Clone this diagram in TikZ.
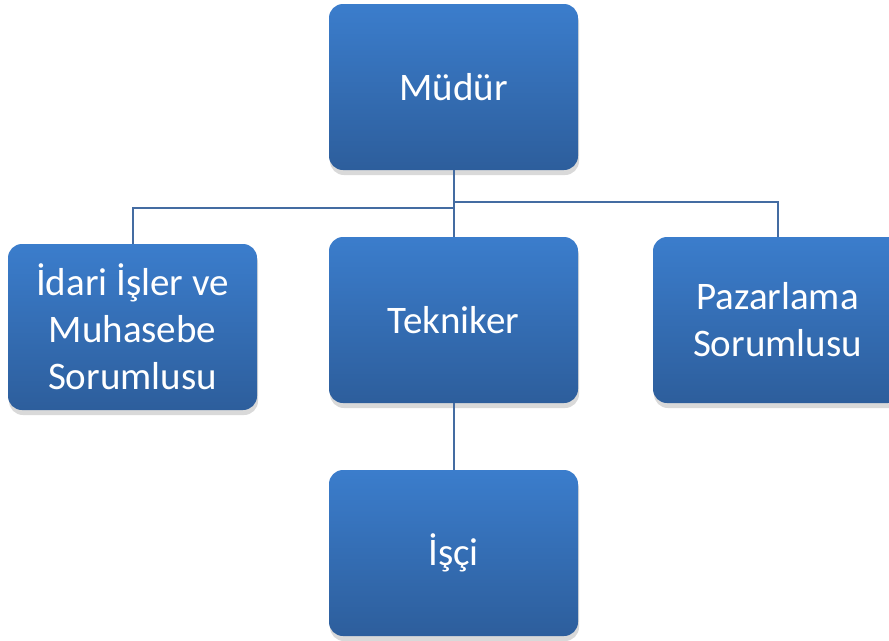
\documentclass[tikz,border=0pt]{standalone}
\usepackage{fontspec}
\setmainfont{Carlito}
\usetikzlibrary{positioning,shadows}
\definecolor{boxtop}{RGB}{59,125,204}
\definecolor{boxbot}{RGB}{45,94,156}
\definecolor{linkblue}{RGB}{68,108,162}

\begin{document}
\begin{tikzpicture}[x=1pt,y=1pt,on grid,node distance=233pt,
   box/.style={rectangle,rounded corners=14pt,minimum width=249pt,minimum height=166pt,
     top color=boxtop,bottom color=boxbot,text=white,align=center,
     font=\fontsize{39}{47}\selectfont,
     drop shadow={shadow xshift=1pt,shadow yshift=-5pt,opacity=0.3}},
   link/.style={draw=linkblue,line width=2pt}]
   \useasboundingbox (0,0) rectangle (889,-640);
   \clip (0,0) rectangle (889,-640);
   \node[box] (mudur) at (453.5,-87) {Müdür};
   \node[box] (tekniker) [below=of mudur] {Tekniker};
   \node[box] (idari) [left=321pt of tekniker,yshift=-7pt] {İdari İşler ve\\Muhasebe\\Sorumlusu};
   \node[box] (pazarlama) [right=324pt of tekniker] {Pazarlama\\Sorumlusu};
   \node[box] (isci) [below=of tekniker] {İşçi};
   \path[link]
     (mudur.south) edge (tekniker.north)
     (tekniker.south) edge (isci.north);
   \draw[link] (mudur.south) ++(0,-38) -| (idari.north);
   \draw[link] (mudur.south) ++(0,-32) -| (pazarlama.north);
\end{tikzpicture}
\end{document}
